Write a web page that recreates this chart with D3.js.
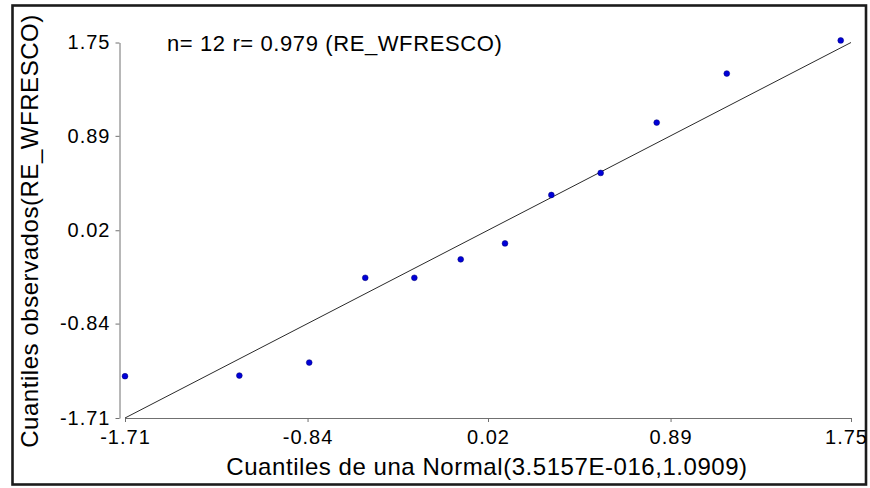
<!DOCTYPE html>
<html>
<head>
<meta charset="utf-8">
<script src="https://cdn.jsdelivr.net/npm/d3@7"></script>
<style>
  body { margin: 0; background: #fff; }
  svg { display: block; font-family: "Liberation Sans", Arial, sans-serif; }
</style>
</head>
<body>
<div id="chart"></div>
<script>
// quantiles of the normal (x) and observed quantiles (y)
const normalQuantiles = [-1.71, -1.165, -0.832, -0.565, -0.331, -0.110, 0.101, 0.322, 0.557, 0.824, 1.158, 1.701];
const observedQuantiles = [-1.325, -1.319, -1.199, -0.418, -0.418, -0.248, -0.101, 0.345, 0.548, 1.012, 1.464, 1.769];
const tickLabels = [-1.71, -0.84, 0.02, 0.89, 1.75];
const axisRange = [-1.71, 1.75];

const width = 870;
const height = 488;

// plain hyphen for negatives, like the original
const fmt = (d) => d.toFixed(2);

const svg = d3.select("#chart")
  .append("svg")
  .attr("width", width)
  .attr("height", height);

// outer frame
svg.append("rect")
  .attr("x", 12.5)
  .attr("y", 5.5)
  .attr("width", 853.5)
  .attr("height", 479)
  .attr("fill", "none")
  .attr("stroke", "#1c1c1c")
  .attr("stroke-width", 2.6);

// scales
const xScale = d3.scaleLinear().domain(axisRange).range([125, 851]);
const yScale = d3.scaleLinear().domain(axisRange).range([418, 42.5]);

// x axis
const xAxis = svg.append("g")
  .attr("transform", "translate(0, 418)")
  .call(d3.axisBottom(xScale).tickValues(tickLabels).tickFormat(fmt)
    .tickSize(4).tickSizeOuter(0).tickPadding(8));

// y axis
const yAxis = svg.append("g")
  .attr("transform", "translate(119.5, 0)")
  .call(d3.axisLeft(yScale).tickValues(tickLabels).tickFormat(fmt)
    .tickSize(4).tickSizeOuter(0).tickPadding(5));

[xAxis, yAxis].forEach((g) => {
  g.select(".domain").attr("stroke", "#707070");
  g.selectAll(".tick line").attr("stroke", "#707070");
  g.selectAll(".tick text")
    .attr("fill", "#000")
    .style("font-size", "20px")
    .style("letter-spacing", "1px")
    .style("font-family", "'Liberation Sans', Arial, sans-serif");
});

// last x label is pulled in so it stays inside the frame
xAxis.selectAll(".tick text").filter((d, i, n) => i === n.length - 1).attr("x", -5);

// reference line
svg.append("line")
  .attr("x1", xScale(axisRange[0]))
  .attr("y1", yScale(axisRange[0]))
  .attr("x2", xScale(axisRange[1]))
  .attr("y2", yScale(axisRange[1]))
  .attr("stroke", "#2a2a2a")
  .attr("stroke-width", 1);

// points
svg.selectAll(".pt")
  .data(normalQuantiles)
  .enter()
  .append("circle")
  .attr("class", "pt")
  .attr("cx", (d) => xScale(d))
  .attr("cy", (d, i) => yScale(observedQuantiles[i]))
  .attr("r", 2.9)
  .attr("fill", "#0000d8")
  .attr("stroke", "#000070")
  .attr("stroke-width", 0.5);

// annotation
svg.append("text")
  .attr("x", 167)
  .attr("y", 51)
  .style("font-size", "22px")
  .style("letter-spacing", "0.6px")
  .text("n= 12 r= 0.979 (RE_WFRESCO)");

// axis titles
svg.append("text")
  .attr("x", 487)
  .attr("y", 475)
  .attr("text-anchor", "middle")
  .style("font-size", "24px")
  .style("letter-spacing", "0.55px")
  .text("Cuantiles de una Normal(3.5157E-016,1.0909)");

svg.append("text")
  .attr("transform", "translate(38, 231) rotate(-90)")
  .attr("text-anchor", "middle")
  .style("font-size", "24px")
  .style("letter-spacing", "0.55px")
  .text("Cuantiles observados(RE_WFRESCO)");
</script>
</body>
</html>
